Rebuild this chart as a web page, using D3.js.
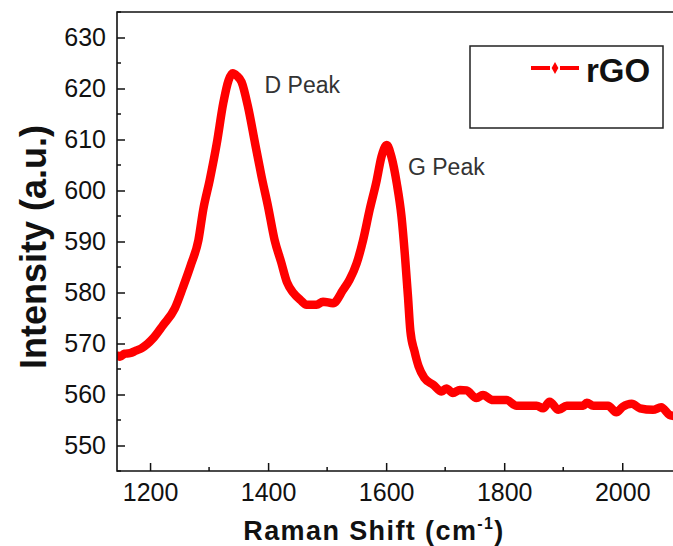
<!DOCTYPE html>
<html>
<head>
<meta charset="utf-8">
<script src="https://cdn.jsdelivr.net/npm/d3@7"></script>
<style>
  html, body { margin: 0; padding: 0; background: #fff; }
  svg { display: block; }
  text { font-family: "Liberation Sans", Arial, sans-serif; }
</style>
</head>
<body>
<svg id="chart" width="673" height="546"></svg>
<script>
// ---- data ----
const ramanShift = [1146, 1149, 1157, 1166, 1176, 1186, 1205, 1222, 1242, 1256, 1270, 1282, 1290, 1301, 1313, 1324, 1333, 1340, 1347, 1355, 1366, 1378, 1389, 1400, 1411, 1422, 1432, 1443, 1455, 1465, 1482, 1493, 1510, 1527, 1538, 1550, 1561, 1572, 1584, 1592, 1601, 1609, 1618, 1626, 1632, 1637, 1641, 1648, 1655, 1665, 1680, 1694, 1702, 1713, 1725, 1736, 1753, 1764, 1781, 1804, 1821, 1855, 1866, 1877, 1892, 1906, 1934, 1940, 1951, 1976, 1990, 2001, 2016, 2030, 2052, 2066, 2080, 2086];
const intensity  = [567.6, 567.4, 568.0, 568.1, 568.6, 569.1, 571.0, 573.6, 576.9, 581.1, 585.7, 590.3, 596.2, 602.0, 609.2, 617.1, 621.6, 623.0, 622.5, 621.3, 616.4, 609.2, 602.7, 596.8, 590.3, 586.0, 582.0, 579.9, 578.5, 577.6, 577.6, 578.2, 577.9, 580.5, 582.5, 585.7, 590.3, 596.2, 602.0, 606.6, 608.9, 606.6, 601.4, 594.9, 587.0, 579.2, 572.5, 568.5, 565.5, 563.2, 561.9, 560.6, 561.2, 560.3, 560.9, 560.8, 559.3, 559.9, 558.9, 558.9, 557.8, 557.8, 557.3, 558.6, 557.0, 557.8, 557.8, 558.4, 557.8, 557.8, 556.5, 557.6, 558.2, 557.3, 557.0, 557.5, 556.0, 555.8];
const xTicks = [1200, 1400, 1600, 1800, 2000];
const xMinorTicks = [1300, 1500, 1700, 1900];
const yTicks = [550, 560, 570, 580, 590, 600, 610, 620, 630];
const yMinorTicks = [545, 555, 565, 575, 585, 595, 605, 615, 625, 635];
const seriesName = "rGO";
const annotations = [
  { label: "D Peak", x: 1394, y: 619.1 },
  { label: "G Peak", x: 1637, y: 603.0 }
];

// ---- layout ----
const svg = d3.select("#chart");
const pL = 117, pT = 12, pB = 471, pR = 673;
const x = d3.scaleLinear().domain([1144, 2086]).range([pL, pR]);
const y = d3.scaleLinear().domain([545, 635]).range([pB, pT]);

svg.append("defs").append("clipPath").attr("id", "clip")
  .append("rect").attr("x", pL).attr("y", pT).attr("width", pR - pL).attr("height", pB - pT);

// data line
const data = ramanShift.map((v, i) => [v, intensity[i]]);
svg.append("path")
  .datum(data)
  .attr("clip-path", "url(#clip)")
  .attr("fill", "none")
  .attr("stroke", "#ff0000")
  .attr("stroke-width", 8.5)
  .attr("stroke-linejoin", "round")
  .attr("stroke-linecap", "round")
  .attr("d", d3.line().curve(d3.curveMonotoneX).x(d => x(d[0])).y(d => y(d[1])));

// axes (ticks inward)
const xAxis = d3.axisBottom(x).tickValues(xTicks).tickSize(-8).tickPadding(12).tickFormat(d3.format("d"));
const gx = svg.append("g").attr("transform", `translate(0,${pB})`).call(xAxis);
gx.selectAll(".tick line").attr("stroke", "#111").attr("stroke-width", 1.5);
gx.selectAll(".tick text").attr("font-size", 25).attr("fill", "#111");
gx.select(".domain").remove();
svg.append("g").selectAll("line").data(xMinorTicks).join("line")
  .attr("x1", d => x(d)).attr("x2", d => x(d)).attr("y1", pB).attr("y2", pB - 4)
  .attr("stroke", "#111").attr("stroke-width", 1.5);

const yAxis = d3.axisLeft(y).tickValues(yTicks).tickSize(-8).tickPadding(11).tickFormat(d3.format("d"));
const gy = svg.append("g").attr("transform", `translate(${pL},0)`).call(yAxis);
gy.selectAll(".tick line").attr("stroke", "#111").attr("stroke-width", 1.5);
gy.selectAll(".tick text").attr("font-size", 25).attr("fill", "#111");
gy.select(".domain").remove();
svg.append("g").selectAll("line").data(yMinorTicks).join("line")
  .attr("x1", pL).attr("x2", pL + 4).attr("y1", d => y(d)).attr("y2", d => y(d))
  .attr("stroke", "#111").attr("stroke-width", 1.5);

// spines
svg.append("path")
  .attr("d", `M${pR + 2},${pT}H${pL}V${pB}H${pR + 2}`)
  .attr("fill", "none").attr("stroke", "#111").attr("stroke-width", 1.6);

// axis titles
const xt = svg.append("text")
  .attr("x", 374).attr("y", 540)
  .attr("text-anchor", "middle")
  .attr("letter-spacing", 1.4)
  .attr("font-size", 27).attr("font-weight", "bold").attr("fill", "#111");
xt.append("tspan").text("Raman Shift (cm");
xt.append("tspan").attr("font-size", 16).attr("dy", -11).text("-1");
xt.append("tspan").attr("dy", 11).text(")");

svg.append("text")
  .attr("transform", "translate(46,247) rotate(-90)")
  .attr("text-anchor", "middle")
  .attr("font-size", 36).attr("font-weight", "bold").attr("fill", "#111")
  .text("Intensity (a.u.)");

// annotations
svg.append("g").selectAll("text").data(annotations).join("text")
  .attr("x", d => x(d.x)).attr("y", d => y(d.y))
  .attr("font-size", 23).attr("fill", "#333")
  .text(d => d.label);

// legend
const lg = svg.append("g");
lg.append("rect").attr("x", 470).attr("y", 46).attr("width", 193).attr("height", 82)
  .attr("fill", "#fff").attr("stroke", "#222").attr("stroke-width", 1.5);
lg.append("line").attr("x1", 531).attr("x2", 550).attr("y1", 68).attr("y2", 68)
  .attr("stroke", "#ff0000").attr("stroke-width", 4);
lg.append("line").attr("x1", 560).attr("x2", 579).attr("y1", 68).attr("y2", 68)
  .attr("stroke", "#ff0000").attr("stroke-width", 4);
lg.append("path").attr("d", d3.symbol(d3.symbolDiamond, 40)()).attr("transform", "translate(555,68)")
  .attr("fill", "#ff0000");
lg.append("text").attr("x", 586).attr("y", 82)
  .attr("font-size", 33).attr("font-weight", "bold").attr("fill", "#111").text(seriesName);
</script>
</body>
</html>
